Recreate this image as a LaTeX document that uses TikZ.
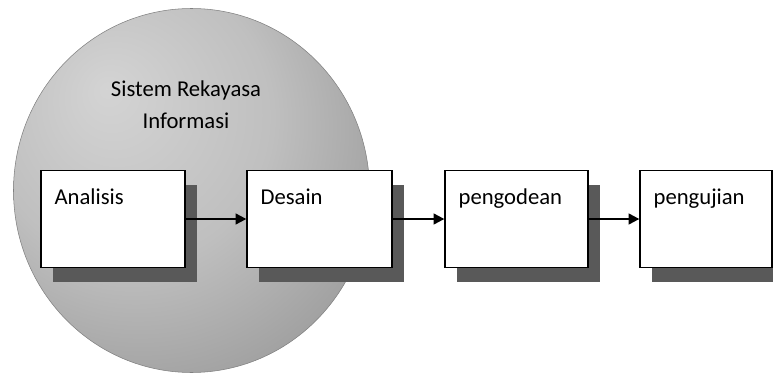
\documentclass[tikz,border=0pt]{standalone}
\usepackage{fontspec}
\setmainfont{Carlito}
\usetikzlibrary{arrows.meta,shadows,shapes.geometric}
\pgfdeclareradialshading{sysball}{\pgfpoint{-12bp}{14bp}}{%
  color(0bp)=(black!17); color(20bp)=(black!25); color(45bp)=(black!45); color(72bp)=(black!62)}

\begin{document}
\begin{tikzpicture}[x=0.75pt, y=-0.75pt,
        font=\fontsize{17}{24}\selectfont,
        phase/.style={draw, fill=white, line width=1pt, minimum height=72.75pt, inner sep=0pt,
                      drop shadow={shadow xshift=9pt, shadow yshift=-11pt, fill=black!65, opacity=1},
                      label={[anchor=north west, inner sep=0pt, xshift=10.5pt, yshift=-14pt]north west:#1}},
        arr/.style={-{Triangle[length=8pt, width=8pt]}, line width=1.6pt}
    ]
    \useasboundingbox (0,0) rectangle (773,381);

    \node[ellipse, draw=black!50, shade, shading=sysball, inner sep=0pt,
          minimum width=267pt, minimum height=273pt] (sys) at (191.5,190.5) {};
    \node[align=center] (title) at (186,105) {Sistem Rekayasa\\Informasi};

    \node[phase=Analisis,  minimum width=108pt]    (ana)  at (113,219)   {};
    \node[phase=Desain,    minimum width=108.75pt] (des)  at (319.5,219) {};
    \node[phase=pengodean, minimum width=107.25pt] (kode) at (516.5,219) {};
    \node[phase=pengujian, minimum width=99pt]     (uji)  at (706,219)   {};

    \draw[arr] (ana)  -- (des);
    \draw[arr] (des)  -- (kode);
    \draw[arr] (kode) -- (uji);
\end{tikzpicture}
\end{document}
